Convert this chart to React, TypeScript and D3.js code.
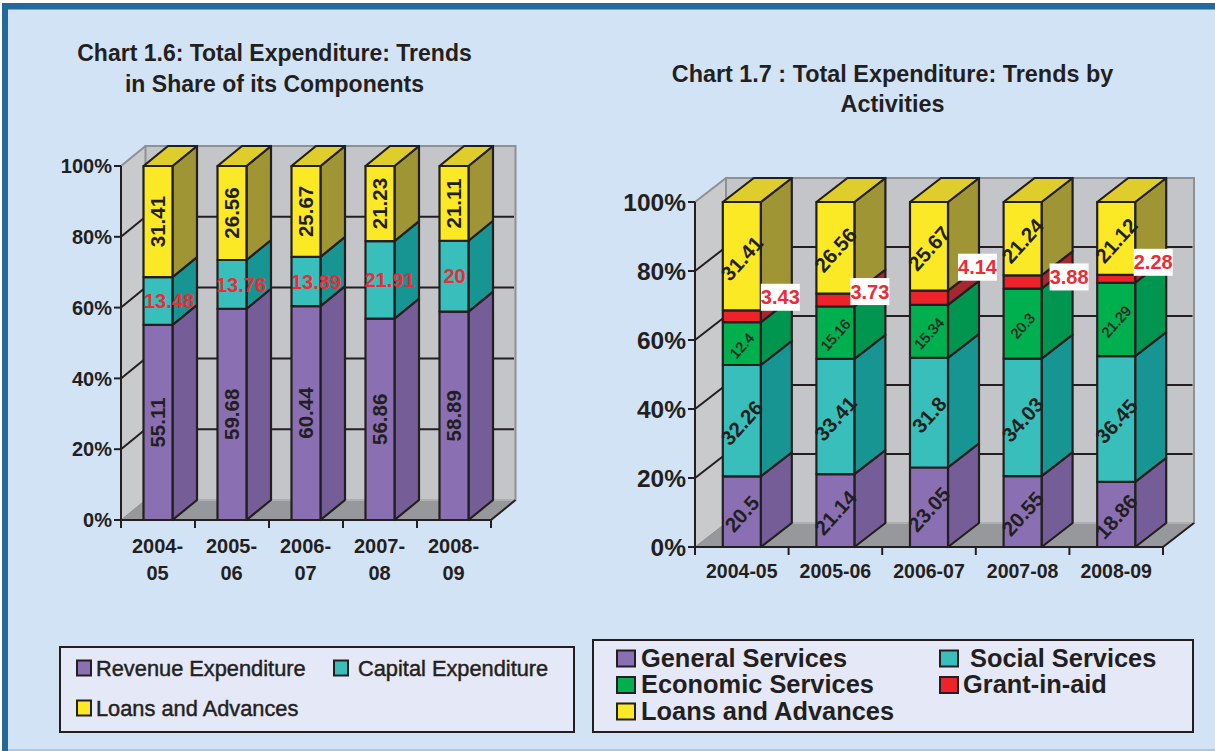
import React from "react";
import * as d3 from "d3";

// Shared year categories
const yearsShort = ["2004-05", "2005-06", "2006-07", "2007-08", "2008-09"];
const percentTicks = [0, 20, 40, 60, 80, 100];

// Chart 1.6: share of components
const revenueExpenditure = [55.11, 59.68, 60.44, 56.86, 58.89];
const capitalExpenditure = [13.48, 13.76, 13.89, 21.91, 20];
const loansShare = [31.41, 26.56, 25.67, 21.23, 21.11];

// Chart 1.7: by activities
const generalServices = [20.5, 21.14, 23.05, 20.55, 18.86];
const socialServices = [32.26, 33.41, 31.8, 34.03, 36.45];
const economicServices = [12.4, 15.16, 15.34, 20.3, 21.29];
const grantInAid = [3.43, 3.73, 4.14, 3.88, 2.28];
const loansActivity = [31.41, 26.56, 25.67, 21.24, 21.12];

const INK = "#231f20";
const FONT = "'Liberation Sans', Arial, sans-serif";

const PALETTE = {
  purple: { front: "#8a70b2", side: "#755e97" },
  teal: { front: "#38bfbb", side: "#179592" },
  green: { front: "#00af4e", side: "#009650" },
  red: { front: "#ee2229", side: "#a6272e" },
  yellow: { front: "#fbe925", side: "#a09535", top: "#decd2a" },
};

type Series = { key: string; values: number[]; tone: { front: string; side: string }; label: string };

type ChartProps = {
  x0: number;
  plotWidth: number;
  yTop: number;
  yBase: number;
  dx: number;
  dy: number;
  barWidth: number;
  series: Series[];
  tickFont: number;
  tickGap: number;
  renderLabels: (ctx: LabelCtx) => React.ReactNode;
  renderCategories: (cx: (i: number) => number) => React.ReactNode;
};

type LabelCtx = {
  stacked: d3.Series<any, string>[];
  y: d3.ScaleLinear<number, number>;
  barCenter: (i: number) => number;
};

function Chart3D(p: ChartProps) {
  const { x0, plotWidth, yTop, yBase, dx, dy, barWidth, series } = p;
  const x1 = x0 + plotWidth;
  const y = d3.scaleLinear().domain([0, 100]).range([yBase, yTop]);
  const step = plotWidth / yearsShort.length;
  const pad = 1 - barWidth / step;
  const x = d3.scaleBand<number>()
    .domain(d3.range(yearsShort.length))
    .range([x0, x1])
    .paddingInner(pad)
    .paddingOuter(pad / 2);

  const rows = yearsShort.map((_, i) => {
    const row: Record<string, number> = {};
    series.forEach((s) => (row[s.key] = s.values[i]));
    return row;
  });
  const stacked = d3.stack<any, string>().keys(series.map((s) => s.key))(rows);
  const poly = (pts: [number, number][]) => pts.map((q) => q.join(",")).join(" ");
  const barCenter = (i: number) => (x(i) as number) + barWidth / 2;

  return (
    <g>
      {/* side wall, back wall and floor */}
      <polygon points={poly([[x0, yTop], [x0 + dx, yTop + dy], [x0 + dx, yBase + dy], [x0, yBase]])} fill="#c9cacc" />
      <rect x={x0 + dx} y={yTop + dy} width={plotWidth} height={yBase - yTop} fill="#c4c5c8" stroke="#8f9092" strokeWidth={2} />
      <polygon points={poly([[x0, yBase], [x0 + dx, yBase + dy], [x1 + dx, yBase + dy], [x1, yBase]])} fill="#97989b" />
      <line x1={x0} y1={yTop} x2={x0 + dx} y2={yTop + dy} stroke="#8f9092" strokeWidth={2} />
      <line x1={x0} y1={yBase} x2={x0 + dx} y2={yBase + dy} stroke="#8f9092" strokeWidth={1} />
      <line x1={x0 + dx} y1={yBase + dy} x2={x1 + dx} y2={yBase + dy} stroke="#aeafb1" strokeWidth={2} />
      {/* gridlines */}
      {percentTicks.filter((t) => t > 0 && t < 100).map((t) => (
        <g key={t} stroke={INK} strokeWidth={2}>
          <line x1={x0 + dx} y1={y(t) + dy} x2={x1 + dx - 1.5} y2={y(t) + dy} />
          <line x1={x0} y1={y(t)} x2={x0 + dx} y2={y(t) + dy} />
        </g>
      ))}
      {/* axes */}
      <g stroke={INK} strokeWidth={2} fill="none">
        <line x1={x0} y1={yTop} x2={x0} y2={yBase + 8} />
        <line x1={x0 - 7} y1={yBase} x2={x1} y2={yBase} />
        <line x1={x1} y1={yBase} x2={x1 + dx} y2={yBase + dy} />
        {percentTicks.map((t) => <line key={t} x1={x0 - 7} y1={y(t)} x2={x0} y2={y(t)} />)}
        {d3.range(1, yearsShort.length + 1).map((i) => (
          <line key={i} x1={x0 + i * step} y1={yBase} x2={x0 + i * step} y2={yBase + 8} />
        ))}
      </g>
      {percentTicks.map((t) => (
        <text key={t} x={x0 - p.tickGap} y={y(t)} dy="0.36em" textAnchor="end" fontSize={p.tickFont} fontWeight={700} fill={INK}>
          {t}%
        </text>
      ))}
      {p.renderCategories(barCenter)}
      {/* stacked prisms */}
      {yearsShort.map((_, i) => {
        const bx = x(i) as number;
        return (
          <g key={i} stroke={INK} strokeWidth={2.2} strokeLinejoin="round">
            {stacked.map((layer, k) => {
              const top = y(layer[i][1]);
              const bot = y(layer[i][0]);
              const tone = series[k].tone;
              return (
                <g key={k}>
                  <polygon
                    points={poly([[bx + barWidth, top], [bx + barWidth + dx, top + dy], [bx + barWidth + dx, bot + dy], [bx + barWidth, bot]])}
                    fill={tone.side}
                  />
                  <rect x={bx} y={top} width={barWidth} height={bot - top} fill={tone.front} />
                </g>
              );
            })}
            <polygon
              points={poly([[bx, yTop], [bx + dx, yTop + dy], [bx + barWidth + dx, yTop + dy], [bx + barWidth, yTop]])}
              fill={PALETTE.yellow.top}
            />
          </g>
        );
      })}
      {p.renderLabels({ stacked, y, barCenter })}
    </g>
  );
}

const segMid = (ctx: LabelCtx, k: number, i: number) =>
  ctx.y((ctx.stacked[k][i][0] + ctx.stacked[k][i][1]) / 2);

// Hand-placed nudges for the labels that sit off their segments
const capitalLabelShift = [11, 9, 10, 9.5, 0.5];
const grantLabelShift: [number, number][] = [[38.5, -19], [34.5, -8.5], [48.5, -30.5], [46.5, -5], [37, -16.5]];

const sharesSeries: Series[] = [
  { key: "rev", values: revenueExpenditure, tone: PALETTE.purple, label: "Revenue Expenditure" },
  { key: "cap", values: capitalExpenditure, tone: PALETTE.teal, label: "Capital Expenditure" },
  { key: "loan", values: loansShare, tone: PALETTE.yellow, label: "Loans and Advances" },
];
const activitySeries: Series[] = [
  { key: "gen", values: generalServices, tone: PALETTE.purple, label: "General Services" },
  { key: "soc", values: socialServices, tone: PALETTE.teal, label: "Social Services" },
  { key: "eco", values: economicServices, tone: PALETTE.green, label: "Economic Services" },
  { key: "gra", values: grantInAid, tone: PALETTE.red, label: "Grant-in-aid" },
  { key: "loa", values: loansActivity, tone: PALETTE.yellow, label: "Loans and Advances" },
];

function Swatch({ x, y, w, h, fill }: { x: number; y: number; w: number; h: number; fill: string }) {
  return <rect x={x} y={y} width={w} height={h} fill={fill} stroke={INK} strokeWidth={2} />;
}

export default function App() {
  return (
    <svg
      width={1215}
      height={751}
      viewBox="0 0 1215 751"
      style={{ position: "absolute", left: 0, top: 0, display: "block" }}
      fontFamily={FONT}
    >
      <rect width={1215} height={751} fill="#ffffff" />
      <rect x={2} y={3} width={1213} height={748} fill="#d3e3f6" />
      <rect x={2} y={3} width={1213} height={6.5} fill="#22699a" />
      <rect x={2} y={3} width={6} height={748} fill="#22699a" />
      <line x1={8} y1={750} x2={1215} y2={750} stroke="#9dc0e0" strokeWidth={1.5} />

      {/* Chart 1.6 */}
      <g fontSize={23} fontWeight={700} fill={INK} textAnchor="middle">
        <text x={274.5} y={61}>Chart 1.6: Total Expenditure: Trends</text>
        <text x={274.5} y={92}>in Share of its Components</text>
      </g>
      <Chart3D
        x0={121}
        plotWidth={370}
        yTop={166}
        yBase={520}
        dx={24.5}
        dy={-20}
        barWidth={29}
        series={sharesSeries}
        tickFont={20}
        tickGap={9}
        renderCategories={(cx) =>
          yearsShort.map((c, i) => {
            const [a, b] = c.split("-");
            return (
              <text key={c} textAnchor="middle" fontSize={20} fontWeight={700} fill={INK}>
                <tspan x={cx(i) - 0.5} y={553}>{a}-</tspan>
                <tspan x={cx(i) - 0.5} y={580}>{b}</tspan>
              </text>
            );
          })
        }
        renderLabels={(ctx) => (
          <g fontSize={20} textAnchor="middle">
            {yearsShort.map((_, i) => (
              <g key={i}>
                {[0, 2].map((k) => {
                  const cx = ctx.barCenter(i);
                  const cy = segMid(ctx, k, i);
                  return (
                    <text key={k} transform={`translate(${cx},${cy}) rotate(-90)`} dy="0.36em" fontSize={20.5} fontWeight={700} fill={INK}>
                      {sharesSeries[k].values[i]}
                    </text>
                  );
                })}
                <text x={ctx.barCenter(i) + capitalLabelShift[i]} y={segMid(ctx, 1, i)} dy="0.36em" fontWeight={700} fill="#ee2a34">
                  {capitalExpenditure[i]}
                </text>
              </g>
            ))}
          </g>
        )}
      />

      {/* Chart 1.7 */}
      <g fontSize={23.4} fontWeight={700} fill={INK} textAnchor="middle">
        <text x={892.5} y={81.5}>Chart 1.7 : Total Expenditure: Trends by</text>
        <text x={892.5} y={111.5}>Activities</text>
      </g>
      <Chart3D
        x0={695}
        plotWidth={468}
        yTop={202}
        yBase={547}
        dx={31}
        dy={-24}
        barWidth={38}
        series={activitySeries}
        tickFont={24.5}
        tickGap={9}
        renderCategories={(cx) =>
          yearsShort.map((c, i) => (
            <text key={c} x={cx(i)} y={578} textAnchor="middle" fontSize={19.5} fontWeight={700} fill={INK}>{c}</text>
          ))
        }
        renderLabels={(ctx) => (
          <g textAnchor="middle">
            {yearsShort.map((_, i) => (
              <g key={i}>
                {[0, 1, 2, 4].map((k) => (
                  <text
                    key={k}
                    transform={`translate(${ctx.barCenter(i)},${segMid(ctx, k, i) + 2}) rotate(-48)`}
                    dy="0.36em"
                    fontSize={k === 2 ? 14.5 : 20.5}
                    fontWeight={k === 2 ? 400 : 700}
                    stroke={k === 2 ? INK : "none"}
                    strokeWidth={k === 2 ? 0.35 : 0}
                    fill={INK}
                  >
                    {activitySeries[k].values[i]}
                  </text>
                ))}
                {(() => {
                  const cx = ctx.barCenter(i) + grantLabelShift[i][0];
                  const cy = segMid(ctx, 3, i) + grantLabelShift[i][1];
                  return (
                    <g>
                      <rect x={cx - 19.5} y={cy - 13.5} width={39} height={27} fill="#ffffff" />
                      <text x={cx} y={cy} dy="0.36em" fontSize={20} fontWeight={700} fill="#ee2a34">{grantInAid[i]}</text>
                    </g>
                  );
                })()}
              </g>
            ))}
          </g>
        )}
      />

      {/* Legend for chart 1.6 */}
      <rect x={60} y={647} width={514} height={85} fill="#e5e8f6" stroke={INK} strokeWidth={2} />
      <Swatch x={77} y={660.5} w={14} h={15} fill={PALETTE.purple.front} />
      <Swatch x={334} y={660.5} w={14} h={15} fill={PALETTE.teal.front} />
      <Swatch x={77} y={700.5} w={14} h={15} fill={PALETTE.yellow.front} />
      <g fontSize={21.8} fontWeight={400} fill={INK} stroke={INK} strokeWidth={0.45}>
        <text x={96} y={675.5}>{sharesSeries[0].label}</text>
        <text x={358} y={675.5}>{sharesSeries[1].label}</text>
        <text x={96} y={715.5}>{sharesSeries[2].label}</text>
      </g>

      {/* Legend for chart 1.7 */}
      <rect x={593} y={640} width={600} height={92} fill="#e5e8f6" stroke={INK} strokeWidth={2} />
      <Swatch x={617} y={650.5} w={18} h={16} fill={PALETTE.purple.front} />
      <Swatch x={940} y={650.5} w={18} h={16} fill={PALETTE.teal.front} />
      <Swatch x={617} y={677} w={18} h={16} fill={PALETTE.green.front} />
      <Swatch x={940} y={677} w={18} h={16} fill={PALETTE.red.front} />
      <Swatch x={617} y={703.5} w={18} h={16} fill={PALETTE.yellow.front} />
      <g fontSize={25.4} fontWeight={700} fill={INK}>
        <text x={641} y={666.5}>{activitySeries[0].label}</text>
        <text x={970} y={666.5}>{activitySeries[1].label}</text>
        <text x={641} y={693}>{activitySeries[2].label}</text>
        <text x={963} y={693}>{activitySeries[3].label}</text>
        <text x={641} y={720}>{activitySeries[4].label}</text>
      </g>
    </svg>
  );
}
